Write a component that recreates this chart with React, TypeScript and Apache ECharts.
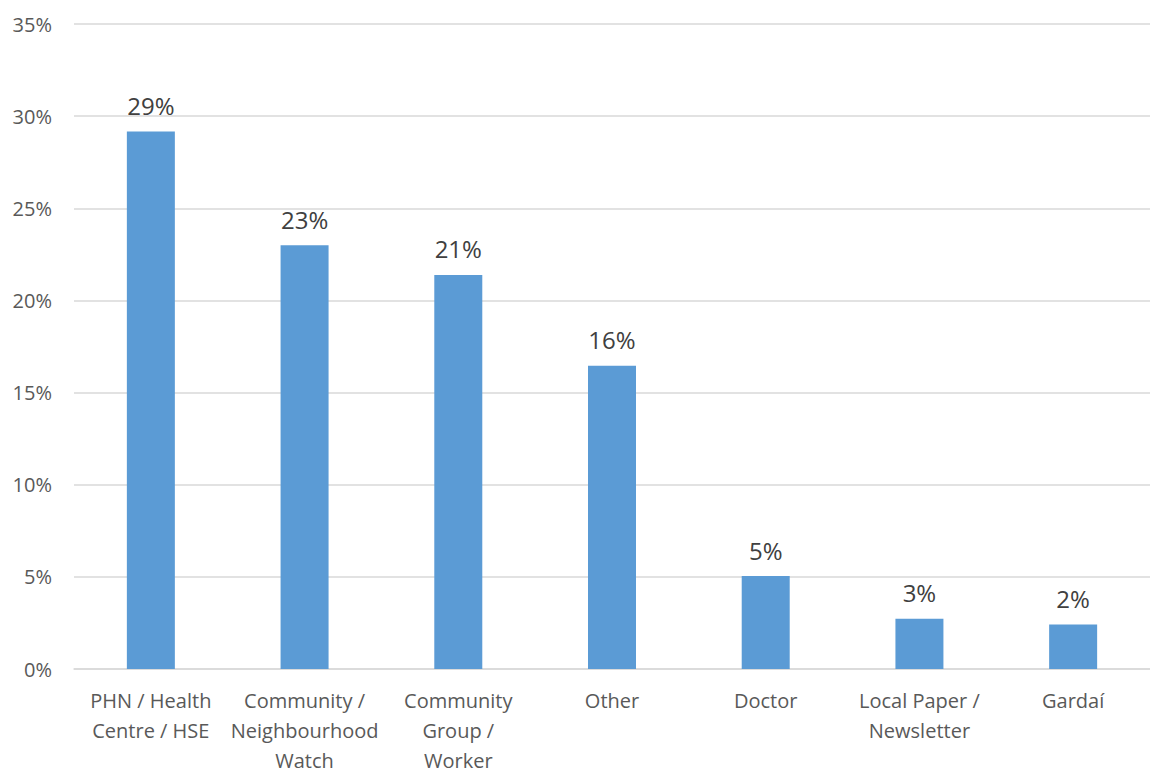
import React, { useEffect, useRef } from "react";
import * as echarts from "echarts";

const categories = [
  "PHN / Health\nCentre / HSE",
  "Community /\nNeighbourhood\nWatch",
  "Community\nGroup /\nWorker",
  "Other",
  "Doctor",
  "Local Paper /\nNewsletter",
  "Gardaí",
];
const values = [29.16, 22.99, 21.38, 16.45, 5.04, 2.73, 2.41];
const yTicks = [0, 5, 10, 15, 20, 25, 30, 35];

const FONT = "'Open Sans', 'Noto Sans', sans-serif";

export default function App() {
  const ref = useRef<HTMLDivElement>(null);
  useEffect(() => {
    document.body.style.margin = "0";
    const chart = echarts.init(ref.current!, null, { renderer: "svg" });
    chart.setOption({
      animation: false,
      backgroundColor: "#ffffff",
      grid: { left: 74, top: 24, width: 1080, height: 653, containLabel: false },
      xAxis: {
        type: "category",
        data: categories,
        axisLine: { show: true, lineStyle: { color: "#d9d9d9", width: 1.5 } },
        axisTick: { show: false },
        axisLabel: {
          interval: 0,
          color: "#595959",
          fontFamily: FONT,
          fontSize: 20,
          lineHeight: 30,
          margin: 16,
        },
      },
      yAxis: {
        type: "value",
        min: yTicks[0],
        max: yTicks[yTicks.length - 1],
        interval: 5,
        axisLine: { show: false },
        axisTick: { show: false },
        splitLine: { lineStyle: { color: "#d9d9d9", width: 1.5 } },
        axisLabel: {
          color: "#595959",
          fontFamily: FONT,
          fontSize: 20,
          margin: 22,
          formatter: (v: number) => `${v}%`,
        },
      },
      series: [
        {
          type: "bar",
          data: values,
          barWidth: 48,
          itemStyle: { color: "#5b9bd5" },
          label: {
            show: true,
            position: "top",
            distance: 14,
            color: "#404040",
            fontFamily: FONT,
            fontSize: 24,
            formatter: (p: any) => `${Math.round(p.value)}%`,
          },
        },
      ],
    });
    return () => chart.dispose();
  }, []);
  return <div ref={ref} style={{ width: 1150, height: 775 }} />;
}
